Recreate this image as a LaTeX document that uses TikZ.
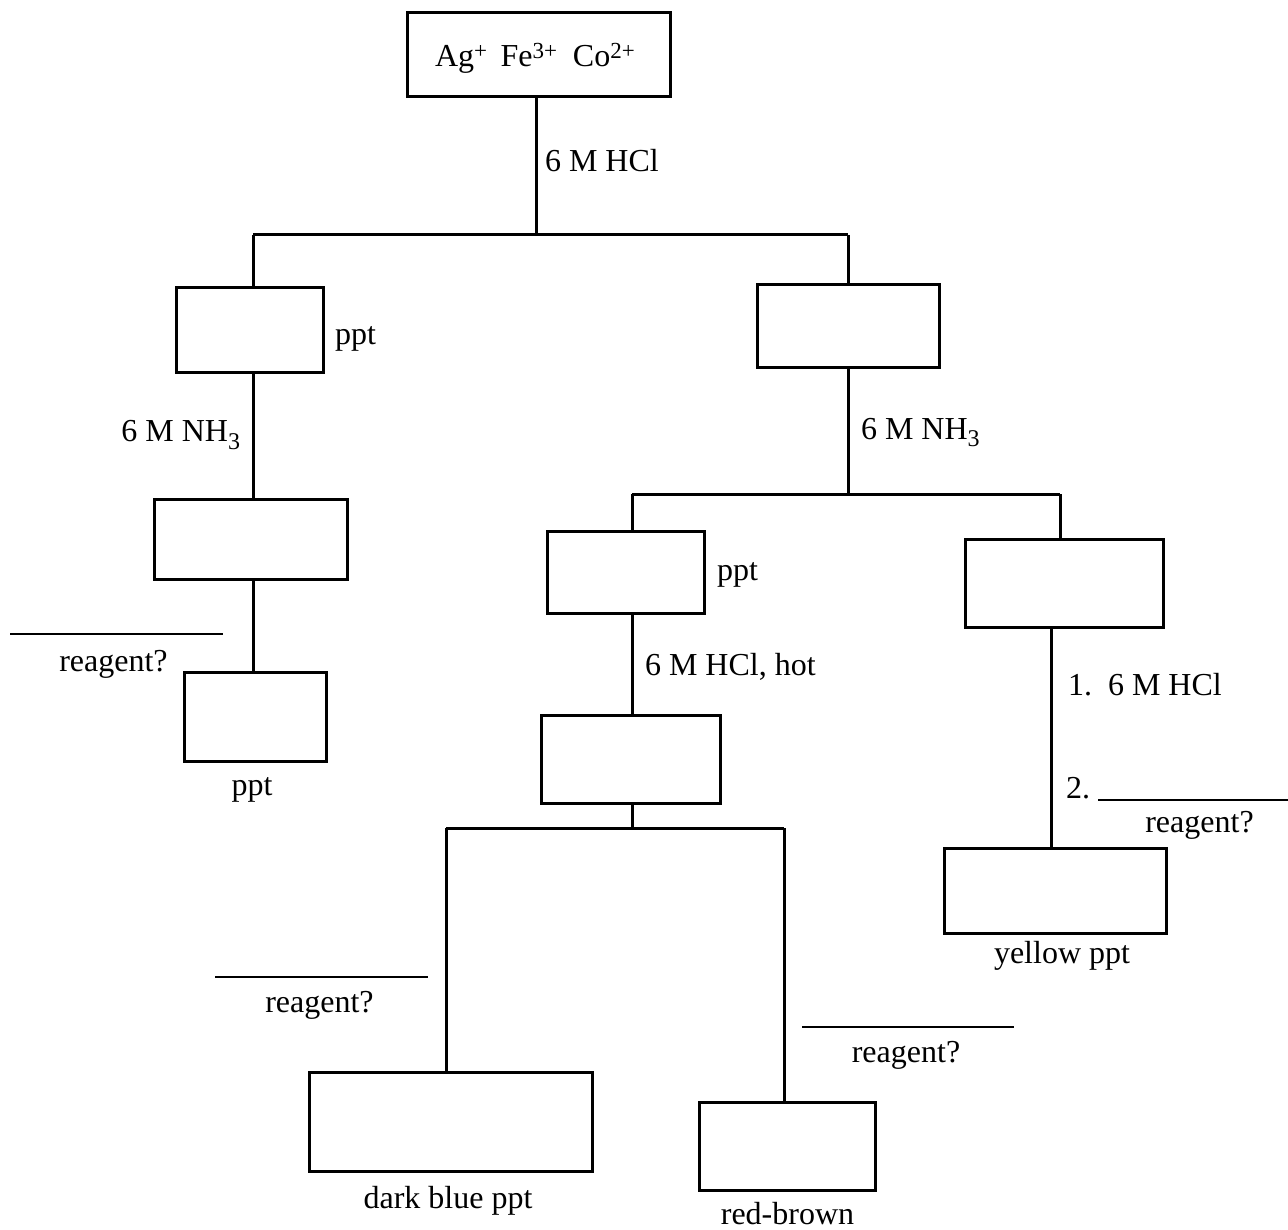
\documentclass[tikz,border=0pt]{standalone}
\usepackage{fontspec}
\setmainfont{Liberation Serif}
\newcommand{\mysup}[1]{\raisebox{8.5pt}{\fontsize{23}{23}\selectfont #1}}
\newcommand{\mysub}[1]{\raisebox{-7.5pt}{\fontsize{24}{24}\selectfont #1}}
\begin{document}
\begin{tikzpicture}[x=1pt,y=-1pt,
  every path/.style={line width=3pt},
  bx/.style={draw, line width=3pt, rectangle, inner sep=0pt, outer sep=0pt},
  lbl/.style={inner sep=0pt, outer sep=0pt, font=\fontsize{32}{38}\selectfont},
  blank/.style={line width=2.8pt}]
\useasboundingbox (0,0) rectangle (1288,1230);
% boxes
\node[bx, minimum width=263pt, minimum height=84pt] (top) at (538.5,55) {};
\node[bx, minimum width=147pt, minimum height=85pt] (L1) at (249.5,330.5) {};
\node[bx, minimum width=193pt, minimum height=80pt] (L2) at (250.5,539) {};
\node[bx, minimum width=142pt, minimum height=89pt] (L3) at (255,716.5) {};
\node[bx, minimum width=182pt, minimum height=83pt] (R1) at (848,326.5) {};
\node[bx, minimum width=157pt, minimum height=82pt] (R2) at (625.5,572) {};
\node[bx, minimum width=198pt, minimum height=88pt] (R3) at (1064,583) {};
\node[bx, minimum width=222pt, minimum height=85pt] (R4) at (1055,890.5) {};
\node[bx, minimum width=179pt, minimum height=88pt] (R5) at (630.5,759) {};
\node[bx, minimum width=283pt, minimum height=99pt] (R6) at (450.5,1121.5) {};
\node[bx, minimum width=176pt, minimum height=88pt] (R7) at (787,1146) {};
% junctions
\coordinate (j1) at (536,235);
\coordinate (jL) at (253,235);
\coordinate (jR) at (848,235);
\coordinate (j2) at (848,494);
\coordinate (j2L) at (632,494);
\coordinate (j2R) at (1060,494);
\coordinate (k3) at (1051,0);
\coordinate (j3) at (632,828);
\coordinate (j3L) at (446,828);
\coordinate (j3R) at (784,828);
% connectors
\draw (top.south -| j1) -- (j1);
\draw (jL) -- (jR);
\draw (jL) -- (jL |- L1.north);
\draw (L1.south -| jL) -- (L2.north -| jL);
\draw (L2.south -| jL) -- (L3.north -| jL);
\draw (jR) -- (R1.north);
\draw (R1.south) -- (j2);
\draw (j2L) -- (j2R);
\draw (j2L) -- (j2L |- R2.north);
\draw (j2R) -- (j2R |- R3.north);
\draw (R2.south -| j2L) -- (R5.north -| j2L);
\draw (R3.south -| k3) -- (R4.north -| k3);
\draw (R5.south -| j3) -- (j3);
\draw (j3L) -- (j3R);
\draw (j3L) -- (j3L |- R6.north);
\draw (j3R) -- (j3R |- R7.north);
% blank answer lines
\coordinate (b1a) at (10,634);   \coordinate (b1b) at (223,634);
\coordinate (b2a) at (1098,800); \coordinate (b2b) at (1288,800);
\coordinate (b3a) at (215,977);  \coordinate (b3b) at (428,977);
\coordinate (b4a) at (802,1027); \coordinate (b4b) at (1014,1027);
\draw[blank] (b1a) -- (b1b);
\draw[blank] (b2a) -- (b2b);
\draw[blank] (b3a) -- (b3b);
\draw[blank] (b4a) -- (b4b);
% labels
\node[lbl, anchor=base west] (tt) at (435,67) {Ag\mysup{+}\hspace{0.42em}Fe\mysup{3+}\hspace{0.5em}Co\mysup{2+}};
\node[lbl, anchor=base west] (a1) at (545,172) {6 M HCl};
\node[lbl, anchor=base west] (a2) at (335,345) {ppt};
\node[lbl, anchor=base east] (a3) at (240,442) {6 M NH\mysub{3}};
\node[lbl, anchor=base west] (a4) at (861,439) {6 M NH\mysub{3}};
\node[lbl, anchor=base west] (a5) at (717,580) {ppt};
\node[lbl, anchor=base] (a6) at (113.5,671) {reagent?};
\node[lbl, anchor=base] (a7) at (252,795) {ppt};
\node[lbl, anchor=base west] (a8) at (645,675) {6 M HCl, hot};
\node[lbl, anchor=base west] (a9) at (1068,695) {1.\ \ 6 M HCl};
\node[lbl, anchor=base west] (a10) at (1066,798) {2.};
\node[lbl, anchor=base] (a11) at (1199.5,832) {reagent?};
\node[lbl, anchor=base] (a12) at (1062,963) {yellow ppt};
\node[lbl, anchor=base] (a13) at (319.5,1012) {reagent?};
\node[lbl, anchor=base] (a14) at (906,1062) {reagent?};
\node[lbl, anchor=base] (a15) at (448,1208) {dark blue ppt};
\node[lbl, anchor=base] (a16) at (787.5,1224) {red-brown};
\end{tikzpicture}
\end{document}
